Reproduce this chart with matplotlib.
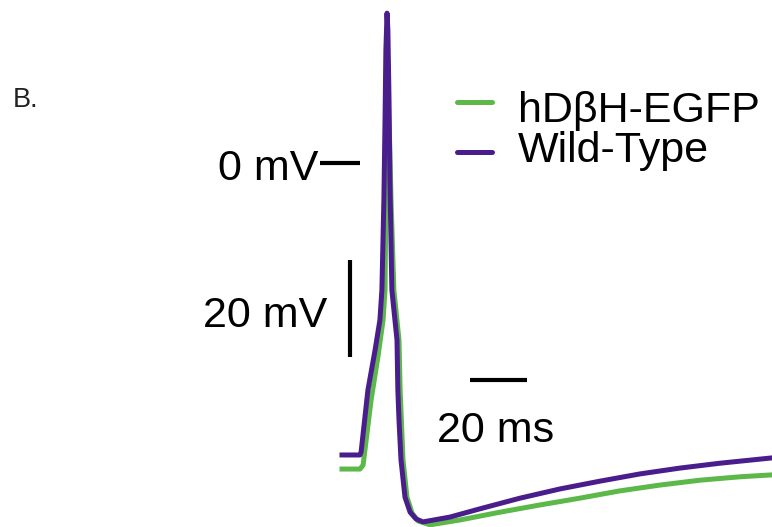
import matplotlib
matplotlib.use("Agg")
import matplotlib.pyplot as plt

plt.rcParams['font.family'] = ['Liberation Sans', 'DejaVu Sans']

# ---- data (time in ms, membrane potential in mV) ----
wt_t = [0, 6.3, 6.7, 9.1, 11.6, 13.3, 14.0, 14.7, 15.1, 15.4, 15.8, 16.1, 16.5, 16.8,
        17.5, 19.3, 19.6, 20.0, 20.7, 22.1, 23.9, 26.0, 28.4, 37.9, 48.4, 62.5,
        76.5, 90.5, 104.6, 118.6, 132.6, 150.9]
wt_v = [-60.2, -60.2, -59.6, -46.8, -38.6, -32.4, -26.2, -7.6, 8.9, 23.3, 30.9, 27.4,
        13.0, -3.5, -26.2, -36.5, -46.8, -53.0, -61.2, -68.9, -72.0, -73.4, -74.0,
        -73.0, -71.3, -69.1, -67.2, -65.6, -64.1, -62.9, -61.9, -60.8]

tg_t = [0, 6.3, 7.4, 10.2, 12.6, 14.4, 15.1, 15.4, 16.1, 16.3, 16.8, 17.2, 18.2, 20.0,
        20.4, 21.4, 22.8, 24.6, 26.7, 30.9, 41.4, 55.4, 69.5, 83.5, 97.5, 111.6,
        125.6, 139.6, 150.9]
tg_v = [-63.1, -63.1, -62.3, -48.9, -40.0, -32.4, -26.2, -7.6, 10.9, 12.0, 2.7, -7.6,
        -26.2, -36.5, -46.8, -61.2, -68.9, -72.2, -73.8, -74.6, -73.6, -72.0, -70.5,
        -69.1, -67.6, -66.4, -65.4, -64.7, -64.3]

series_labels = ['hD\u03b2H-EGFP', 'Wild-Type']
series_colors = ['#5cb848', '#4a1d8c']

zero_label = '0 mV'
v_scale_label = '20 mV'
t_scale_label = '20 ms'
v_scale = 20
t_scale = 20
panel_label = 'B.'

fig = plt.figure(figsize=(7.72, 5.27), dpi=100)
ax = fig.add_axes([0, 0, 1, 1])
ax.set_xlim(-120.0, 150.88)
ax.set_ylim(-75.05, 33.61)
ax.axis('off')

lw = 3.6
ax.plot(tg_t, tg_v, color=series_colors[0], lw=lw, solid_joinstyle='round')
ax.plot(wt_t, wt_v, color=series_colors[1], lw=lw, solid_joinstyle='round')

fs = 31
# 0 mV marker
ax.plot([-7.7, 6.3], [0, 0], color='black', lw=3, solid_capstyle='butt')
ax.text(-8.3, -3.5, zero_label, ha='right', va='baseline', fontsize=fs)

# 20 mV scale bar
ax.plot([2.8, 2.8], [-20, -20 - v_scale], color='black', lw=3, solid_capstyle='butt')
ax.text(-5.0, -33.8, v_scale_label, ha='right', va='baseline', fontsize=fs)

# 20 ms scale bar
ax.plot([44.9, 44.9 + t_scale], [-44.7, -44.7], color='black', lw=3, solid_capstyle='butt')
ax.text(33.5, -57.5, t_scale_label, ha='left', va='baseline', fontsize=fs)

# legend
leg_y_line = [12.6, 2.3]
leg_y_text = [8.45, 0.2]
for lab, col, yl, yt in zip(series_labels, series_colors, leg_y_line, leg_y_text):
    ax.plot([40.35, 52.6], [yl, yl], color=col, lw=3.6, solid_capstyle='round')
    ax.text(61.8, yt, lab, ha='left', va='baseline', fontsize=fs)

ax.text(-115.6, 11.5, panel_label, ha='left', va='baseline', fontsize=19.5, color='#222222')

fig.savefig('out.png', dpi=100)
